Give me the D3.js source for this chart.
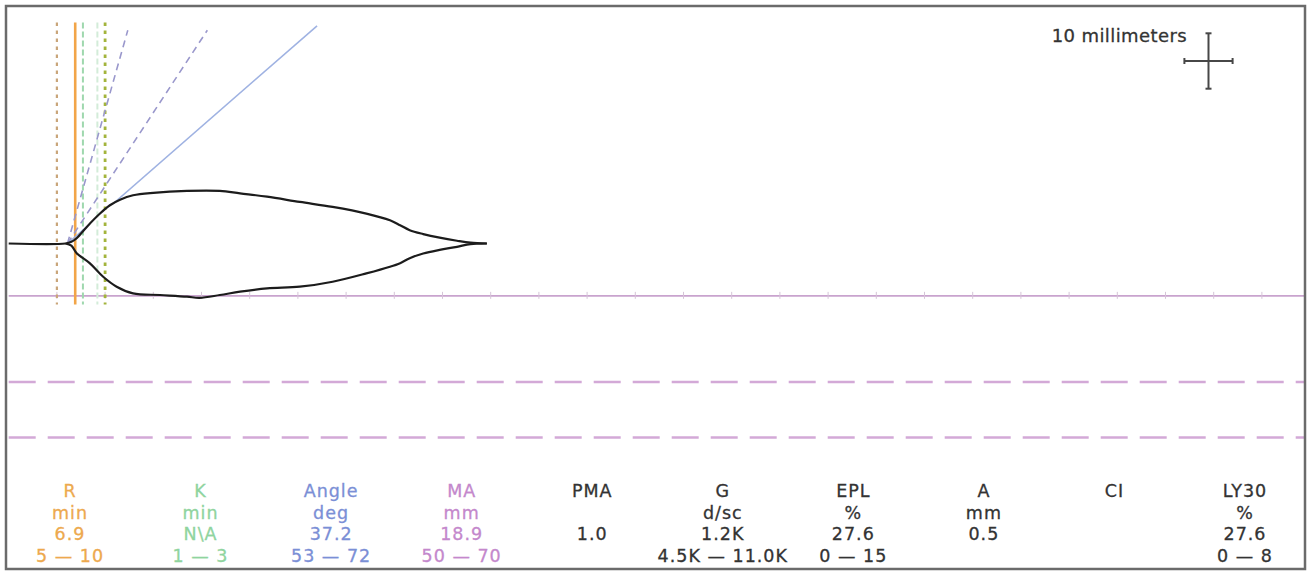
<!DOCTYPE html>
<html>
<head>
<meta charset="utf-8">
<script src="https://cdn.jsdelivr.net/npm/d3@7"></script>
<style>
body{margin:0;background:#fff;}
svg{display:block;font-family:"DejaVu Sans",Verdana,sans-serif;}
</style>
</head>
<body>
<div id="chart"></div>
<script>
var W=1312,H=574;

// trace, minutes against amplitude in mm (upper above the baseline, lower below)
var upperMin=[0,5.9,6.5,7.05,8.1,9.5,10.5,11.55,12.9,15.0,18.5,21.9,24.0,26.8,30.2,33.6,37.1,39.55,40.6,41.6,43.0,44.7,46.5,47.9,49.6];
var upperMm=[0,0,0.3,0.95,3.0,5.45,6.9,7.9,8.7,9.15,9.5,9.5,9.05,8.45,7.5,6.6,5.4,4.2,3.3,2.4,1.7,1.05,0.5,0.15,0];
var lowerMin=[5.9,6.5,7.05,8.4,9.8,11.2,12.9,15.7,18.5,19.8,21.9,24.0,26.8,30.2,33.6,37.1,39.55,40.6,41.6,43.0,44.7,46.5,47.9,49.6];
var lowerMm=[0,0.4,1.75,3.55,6.0,7.8,9.0,9.3,9.6,9.8,9.3,8.7,8.1,7.8,6.9,5.4,4.2,3.55,2.65,1.8,1.15,0.6,0.1,0];

// marker lines
var rRange=[5,10];
var rValue=6.9;
var kMarks=[7.7,9.2];
var angleRange=[53,72];
var angleValue=37.2;
var angleOrigin=6.1;
var maValue=18.9;
var maRange=[50,70];
var tickMinutes=d3.range(5,131,5);
var scaleBarMm=10;
var chartSpeed=2; // mm of paper per minute

// table below the trace
var colNames=["R","K","Angle","MA","PMA","G","EPL","A","CI","LY30"];
var colUnits=["min","min","deg","mm","","d/sc","%","mm","","%"];
var colValues=["6.9","N\\A","37.2","18.9","1.0","1.2K","27.6","0.5","","27.6"];
var colRanges=["5 \u2014 10","1 \u2014 3","53 \u2014 72","50 \u2014 70","","4.5K \u2014 11.0K","0 \u2014 15","","","0 \u2014 8"];
var colColors=["#eda94e","#8fd49e","#7b8fd6","#c488cc","#333","#333","#333","#333","#333","#333"];

var svg=d3.select("#chart").append("svg")
	.attr("width",W)
	.attr("height",H);

var x=d3.scaleLinear().domain([0,134.5]).range([8.7,8.7+134.5*9.64]);
var y=d3.scaleLinear().domain([-40,40]).range([243.5+221.6,243.5-221.6]);

var upper=upperMin.map(function(t,i){return [t,upperMm[i]];});
var lower=lowerMin.map(function(t,i){return [t,-lowerMm[i]];});
var curve=d3.curveCatmullRom.alpha(0.5);

// area above the upper trace, used to hide the angle lines inside the envelope
svg.append("clipPath").attr("id","above")
	.append("path")
	.attr("d",d3.area()
		.x(function(d){return x(d[0]);})
		.y0(0)
		.y1(function(d){return y(d[1]);})
		.curve(curve)(upper.concat([[134.5,0]])));

// MA line and normal range
svg.append("line")
	.attr("x1",x(0)).attr("x2",x(134.5))
	.attr("y1",y(-maValue/2)).attr("y2",y(-maValue/2))
	.style("stroke","#c9a3ce").style("stroke-width",1.6);
svg.selectAll("line.tick").data(tickMinutes).enter().append("line")
	.attr("class","tick")
	.attr("x1",function(d){return x(d);}).attr("x2",function(d){return x(d);})
	.attr("y1",y(-maValue/2)-4).attr("y2",y(-maValue/2)+3)
	.style("stroke","#d6c4d8").style("stroke-width",1);
svg.selectAll("line.marange").data(maRange).enter().append("line")
	.attr("class","marange")
	.attr("x1",x(0)).attr("x2",x(134.5))
	.attr("y1",function(d){return y(-d/2);}).attr("y2",function(d){return y(-d/2);})
	.style("stroke","#d3a9d7").style("stroke-width",2.5)
	.style("stroke-dasharray","27,12");

// vertical markers
var vLines=[
	{t:rRange[0],c:"#c9a57a",w:2.2,dash:"3.5,4.5"},
	{t:rValue,c:"#f2a548",w:2.6,dash:null},
	{t:kMarks[0],c:"#9fd8ae",w:2,dash:"6,3"},
	{t:kMarks[1],c:"#d3ecd9",w:2,dash:"6,3"},
	{t:rRange[1],c:"#a3b43c",w:2.8,dash:"3.5,4.5"}
];
svg.selectAll("line.vline").data(vLines).enter().append("line")
	.attr("class","vline")
	.attr("x1",function(d){return x(d.t);}).attr("x2",function(d){return x(d.t);})
	.attr("y1",y(39.9)).attr("y2",y(-11))
	.style("stroke",function(d){return d.c;})
	.style("stroke-width",function(d){return d.w;})
	.style("stroke-dasharray",function(d){return d.dash;});

// angle lines from the R point
var aLines=[
	{deg:angleRange[1],top:38.5,c:"#9a98cc",dash:"7,5"},
	{deg:angleRange[0],top:38.5,c:"#9a98cc",dash:"7,5"},
	{deg:angleValue,top:39.3,c:"#9fb2e2",dash:null}
];
svg.append("g").attr("clip-path","url(#above)")
	.selectAll("line").data(aLines).enter().append("line")
	.attr("x1",x(angleOrigin)).attr("y1",y(0))
	.attr("x2",function(d){return x(angleOrigin+d.top/(chartSpeed*Math.tan(d.deg*Math.PI/180)));})
	.attr("y2",function(d){return y(d.top);})
	.style("stroke",function(d){return d.c;})
	.style("stroke-width",1.6)
	.style("stroke-dasharray",function(d){return d.dash;});

// trace
var line=d3.line()
	.x(function(d){return x(d[0]);})
	.y(function(d){return y(d[1]);})
	.curve(curve);
[upper,lower].forEach(function(p){
	svg.append("path")
		.attr("d",line(p))
		.style("fill","none")
		.style("stroke","#1c1c1c")
		.style("stroke-width",2.2);
});

// scale bar
var cx=1208.5,cy=61;
var hx=(x(scaleBarMm/chartSpeed)-x(0))/2;
var hy=(y(0)-y(scaleBarMm))/2;
var bar=svg.append("g").style("stroke","#474747").style("stroke-width",2);
bar.append("line").attr("x1",cx-hx).attr("x2",cx+hx).attr("y1",cy).attr("y2",cy);
bar.append("line").attr("x1",cx).attr("x2",cx).attr("y1",cy-hy).attr("y2",cy+hy);
bar.append("line").attr("x1",cx-hx).attr("x2",cx-hx).attr("y1",cy-3).attr("y2",cy+3);
bar.append("line").attr("x1",cx+hx).attr("x2",cx+hx).attr("y1",cy-3).attr("y2",cy+3);
bar.append("line").attr("x1",cx-3).attr("x2",cx+3).attr("y1",cy-hy).attr("y2",cy-hy);
bar.append("line").attr("x1",cx-3).attr("x2",cx+3).attr("y1",cy+hy).attr("y2",cy+hy);
svg.append("text")
	.text(scaleBarMm+" millimeters")
	.attr("x",1187).attr("y",42)
	.attr("text-anchor","end")
	.style("font-size","18px")
	.style("letter-spacing","0.4px")
	.style("fill","#333")
	.style("stroke","#333").style("stroke-width",0.3);

// table
var col=d3.scalePoint().domain(colNames).range([70,1245]);
var rows=[colNames,colUnits,colValues,colRanges];
var rowY=[497,518.5,540,561.5];
rows.forEach(function(r,ri){
	svg.selectAll("text.row"+ri).data(r).enter().append("text")
		.attr("class","row"+ri)
		.text(function(d){return d;})
		.attr("x",function(d,i){return col(colNames[i]);})
		.attr("y",rowY[ri])
		.attr("text-anchor","middle")
		.style("font-size","17.5px")
		.style("letter-spacing","1px")
		.style("fill",function(d,i){return colColors[i];})
		.style("stroke",function(d,i){return colColors[i];})
		.style("stroke-width",0.3);
});

// frame
svg.append("rect")
	.attr("x",6).attr("y",6)
	.attr("width",1299).attr("height",563)
	.style("fill","none")
	.style("stroke","#6b6b6b")
	.style("stroke-width",2.5);
</script>
</body>
</html>
